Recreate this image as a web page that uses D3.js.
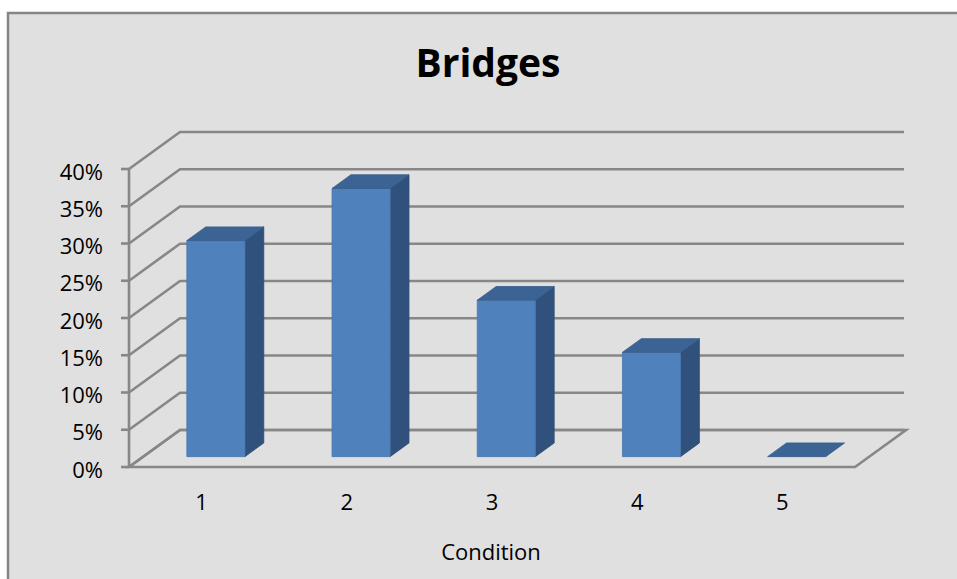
<!DOCTYPE html>
<html>
<head>
<meta charset="utf-8">
<script src="https://cdn.jsdelivr.net/npm/d3@7"></script>
<style>
  html, body { margin: 0; padding: 0; background: #ffffff; }
  svg { display: block; }
  text { font-family: "Open Sans", "Noto Sans", sans-serif; fill: #000; }
</style>
</head>
<body>
<svg id="chart" width="957" height="579"></svg>
<script>
// Share of bridges in each condition rating
const chartTitle = "Bridges";
const axisTitle = "Condition";
const categories = ["1", "2", "3", "4", "5"];
const shares = [0.29, 0.36, 0.21, 0.14, 0.0];
const yTicks = [0, 0.05, 0.10, 0.15, 0.20, 0.25, 0.30, 0.35, 0.40];

const svg = d3.select("#chart");
const W = 957, H = 579;

// chart area with grey frame on the top and left
svg.append("rect").attr("x", 0).attr("y", 0).attr("width", W).attr("height", H).attr("fill", "#ffffff");
svg.append("rect").attr("x", 8).attr("y", 13).attr("width", W).attr("height", H)
  .attr("fill", "#e0e0e0").attr("stroke", "#858585").attr("stroke-width", 2.5);

// front plane scales
const x = d3.scaleBand().domain(categories).range([129, 855]).paddingInner(0.6).paddingOuter(0.3);
const xc = d3.scaleBand().domain(categories).range([129, 855]);
const y = d3.scaleLinear().domain([0, 0.4]).range([467, 169]);

// depth projection: fraction f of the floor depth
const DX = 51, DY = -37;
const proj = (px, py, f) => [px + DX * f, py + DY * f];
const F1 = 0.28, F2 = 0.65; // bar front / back depth
const backRight = 904;

const grid = svg.append("g").attr("fill", "none").attr("stroke", "#878787").attr("stroke-width", 2.6);

// gridlines: along the left wall then across the back wall
yTicks.forEach(t => {
  const [bx, by] = proj(129, y(t), 1);
  grid.append("path")
    .attr("d", d3.line()([[129, y(t)], [bx, by], [backRight, by]]));
});

// floor outline
const xr = x.range();
grid.append("path").attr("d", d3.line()([
  [xr[0], y(0)], [xr[1], y(0)], proj(xr[1], y(0), 1), proj(xr[0], y(0), 1)
]) + "Z");

// value axis line and tick marks
grid.append("line").attr("x1", 129).attr("x2", 129).attr("y1", y(0.4)).attr("y2", y(0));
grid.selectAll("line.tick").data(yTicks).join("line").attr("class", "tick")
  .attr("x1", 121).attr("x2", 129).attr("y1", d => y(d)).attr("y2", d => y(d));

// tick labels
svg.append("g").selectAll("text").data(yTicks).join("text")
  .attr("x", 103).attr("y", d => y(d) + 10.5)
  .attr("text-anchor", "end").attr("font-size", 22)
  .text(d => d3.format(".0%")(d));

// 3D bars
const bars = svg.append("g");
categories.forEach((c, i) => {
  const v = shares[i];
  const x0 = x(c), x1 = x(c) + x.bandwidth();
  const yb = y(0), yt = y(v);
  const fbl = proj(x0, yb, F1), fbr = proj(x1, yb, F1);
  const ftl = proj(x0, yt, F1), ftr = proj(x1, yt, F1);
  const btl = proj(x0, yt, F2), btr = proj(x1, yt, F2), bbr = proj(x1, yb, F2);
  const g = bars.append("g");
  if (v > 0) {
    g.append("path").attr("d", d3.line()([fbr, ftr, btr, bbr]) + "Z")
      .attr("fill", "#30517b").attr("stroke", "#2d4c74").attr("stroke-width", 0.8);
    g.append("path").attr("d", d3.line()([fbl, fbr, ftr, ftl]) + "Z")
      .attr("fill", "#4f81bd").attr("stroke", "#4877b0").attr("stroke-width", 0.8);
  }
  g.append("path").attr("d", d3.line()([ftl, ftr, btr, btl]) + "Z")
    .attr("fill", "#3b6394").attr("stroke", "#375d8c").attr("stroke-width", 0.8);
});

// category labels
svg.append("g").selectAll("text").data(categories).join("text")
  .attr("x", d => xc(d) + xc.bandwidth() / 2).attr("y", 510)
  .attr("text-anchor", "middle").attr("font-size", 22)
  .text(d => d);

svg.append("text").attr("x", 491).attr("y", 560).attr("text-anchor", "middle")
  .attr("font-size", 22).text(axisTitle);

svg.append("text").attr("x", 488).attr("y", 77).attr("text-anchor", "middle")
  .attr("font-size", 39).attr("font-weight", "bold").text(chartTitle);
</script>
</body>
</html>
